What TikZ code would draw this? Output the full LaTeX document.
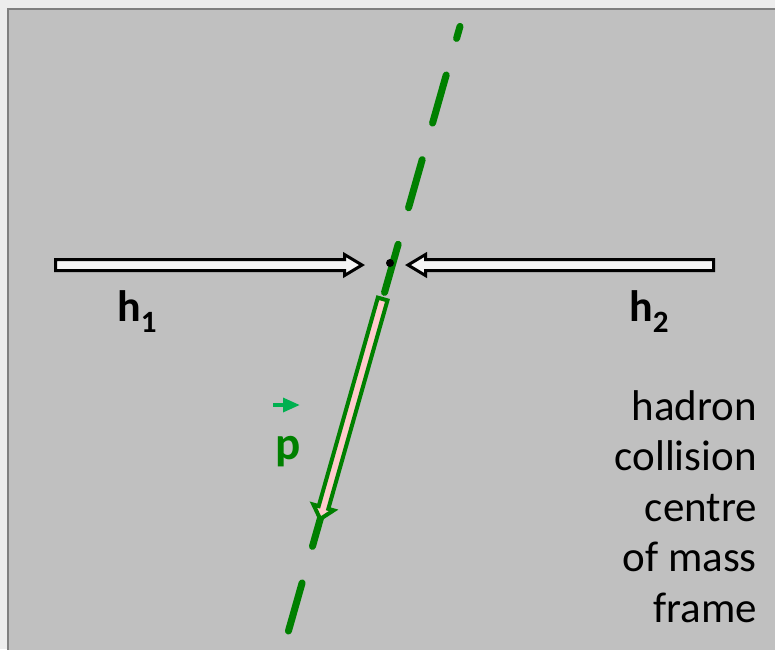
\documentclass[tikz,border=0pt]{standalone}
\usepackage{fontspec}
\setmainfont{Carlito}
\usetikzlibrary{calc}
\definecolor{bgfill}{HTML}{C0C0C0}
\definecolor{bgborder}{HTML}{808080}
\definecolor{outside}{HTML}{EDEDED}
\definecolor{dkgreen}{HTML}{008000}
\definecolor{ltgreen}{HTML}{00B050}
\definecolor{pinkfill}{HTML}{FFCCCC}
\definecolor{arrowfill}{HTML}{F4F4F4}
\tikzset{
  beamarrow/.style={draw=black, fill=arrowfill, line width=3pt, line join=miter},
  trackline/.style={draw=dkgreen, line width=7pt, line cap=round, dash pattern=on 50pt off 38pt, dash phase=37.5pt},
  momentum/.style={draw=dkgreen, fill=pinkfill, line width=4pt, line join=miter},
  hlabel/.style={inner sep=0pt, font=\fontsize{44}{44}\selectfont\bfseries},
  framelabel/.style={inner sep=0pt, anchor=base east, font=\fontsize{43}{50}\selectfont}
}
\begin{document}
\begin{tikzpicture}[x=1pt,y=-1pt]
\useasboundingbox (0,0) rectangle (775,649);
\clip (0,0) rectangle (775,649);
\fill[outside] (0,0) rectangle (775,649);
\filldraw[fill=bgfill, draw=bgborder, line width=2pt] (8,9) rectangle (800,680);

% particle track
\coordinate (T) at (460,26.4);
\coordinate (B) at (288,632.6);
\draw[trackline] (T) -- (B);

% momentum arrow along the track
\coordinate (S) at (382.65,299);
\coordinate (E) at (320.23,519);
\coordinate (H) at ($(E)!12pt!(S)$);
\draw[momentum] ($(S)!5pt!90:(E)$) -- ($(H)!5pt!90:(E)$) -- ($(H)!10.5pt!90:(E)$) -- (E)
  -- ($(H)!10.5pt!-90:(E)$) -- ($(H)!5pt!-90:(E)$) -- ($(S)!5pt!-90:(E)$) -- cycle;

% incoming hadrons
\draw[beamarrow] (55.5,259.5) -- (344.5,259.5) -- (344.5,254.5) -- (362,265)
  -- (344.5,275.5) -- (344.5,270.5) -- (55.5,270.5) -- cycle;
\draw[beamarrow] (713.5,259.5) -- (425.5,259.5) -- (425.5,254.5) -- (408,265)
  -- (425.5,275.5) -- (425.5,270.5) -- (713.5,270.5) -- cycle;

% collision point
\fill[black] (390,263) circle (4);

% labels
\node[hlabel, anchor=base west] (h1) at (117,321.5) {h\raisebox{-11pt}{\fontsize{31}{31}\selectfont 1}};
\node[hlabel, anchor=base west] (h2) at (629,321.5) {h\raisebox{-11pt}{\fontsize{31}{31}\selectfont 2}};

\node[inner sep=0pt, anchor=base west, text=dkgreen, font=\fontsize{47}{47}\selectfont\bfseries] (p) at (275,459) {p};
\draw[ltgreen, line width=3.3pt] (273,405) -- (286,405);
\fill[ltgreen] (283,397.5) -- (299.5,405) -- (283,412.5) -- cycle;

\node[framelabel] (l1) at (757,420) {hadron};
\node[framelabel] (l2) at (757,470.5) {collision};
\node[framelabel] (l3) at (757,521) {centre};
\node[framelabel] (l4) at (757,571.5) {of mass};
\node[framelabel] (l5) at (757,622) {frame};
\end{tikzpicture}
\end{document}
